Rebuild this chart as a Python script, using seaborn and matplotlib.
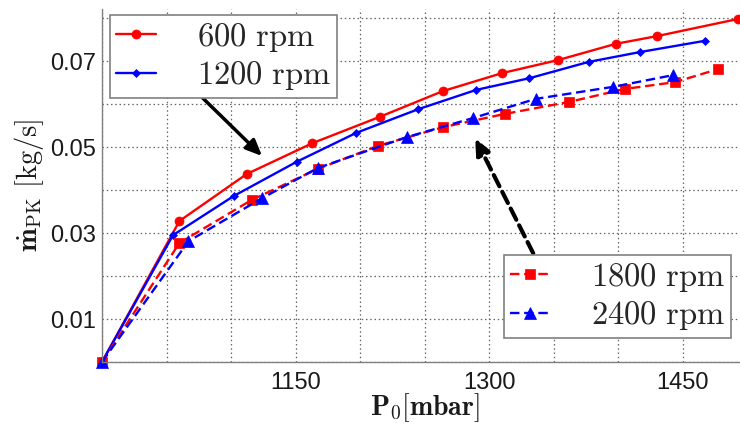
import matplotlib
matplotlib.use("Agg")
import matplotlib.pyplot as plt
import seaborn as sns
import pandas as pd
from matplotlib.ticker import FixedLocator, FixedFormatter

# ---- data ----
p600_x = [1000, 1060, 1112, 1163, 1215, 1264, 1310, 1353, 1398, 1430, 1493]
p600_y = [0, 0.0328, 0.0437, 0.0509, 0.0570, 0.0630, 0.0672, 0.0702, 0.0740, 0.0758, 0.0798]

p1200_x = [1000, 1055, 1102, 1151, 1197, 1245, 1290, 1331, 1377, 1417, 1467]
p1200_y = [0, 0.0295, 0.0386, 0.0466, 0.0533, 0.0588, 0.0633, 0.0660, 0.0698, 0.0721, 0.0747]

p1800_x = [1000, 1060, 1116, 1167, 1214, 1264, 1312, 1362, 1405, 1444, 1477]
p1800_y = [0, 0.0277, 0.0377, 0.0449, 0.0503, 0.0546, 0.0577, 0.0605, 0.0635, 0.0651, 0.0681]

p2400_x = [1000, 1067, 1124, 1167, 1236, 1287, 1336, 1396, 1442]
p2400_y = [0, 0.0281, 0.0381, 0.0451, 0.0523, 0.0567, 0.0612, 0.0640, 0.0667]

labels = ["600 rpm", "1200 rpm", "1800 rpm", "2400 rpm"]

x_ticks = [1000, 1050, 1100, 1150, 1200, 1250, 1300, 1350, 1400, 1450, 1500]
x_ticklabels = ["", "", "", "1150", "", "", "1300", "", "", "1450", ""]
y_ticks = [0.0, 0.01, 0.02, 0.03, 0.04, 0.05, 0.06, 0.07, 0.08]
y_ticklabels = ["", "0.01", "", "0.03", "", "0.05", "", "0.07", ""]

# ---- style ----
sns.set_theme(style="white")
plt.rcParams["font.family"] = ["Liberation Sans", "DejaVu Sans"]
plt.rcParams["mathtext.fontset"] = "cm"

fig = plt.figure(figsize=(7.4, 4.28), dpi=100)
ax = fig.add_axes([102 / 740, 66 / 428, 645.5 / 740, 353 / 428])

series = [
    (p600_x, p600_y, labels[0], "#ff0000", "o", 6.5, "-"),
    (p1200_x, p1200_y, labels[1], "#0000ff", "D", 4, "-"),
    (p1800_x, p1800_y, labels[2], "#ff0000", "s", 7.5, (0, (4, 2))),
    (p2400_x, p2400_y, labels[3], "#0000ff", "^", 8, (0, (4, 2))),
]
handles = []
for xs, ys, lab, col, mk, ms, ls in series:
    df = pd.DataFrame({"P0": xs, "m": ys})
    sns.lineplot(data=df, x="P0", y="m", ax=ax, color=col, marker=mk,
                 markersize=ms, markeredgecolor=col, markerfacecolor=col,
                 markeredgewidth=0.5, linestyle=ls, linewidth=1.7,
                 sort=False, estimator=None, label=lab, clip_on=False)
    handles.append(ax.lines[-1])

ax.set_xlim(1000, 1500)
ax.set_ylim(0, 0.0821)
ax.xaxis.set_major_locator(FixedLocator(x_ticks))
ax.xaxis.set_major_formatter(FixedFormatter(x_ticklabels))
ax.yaxis.set_major_locator(FixedLocator(y_ticks))
ax.yaxis.set_major_formatter(FixedFormatter(y_ticklabels))
ax.tick_params(axis="both", direction="in", length=4, width=0.8,
               colors="#808080", labelcolor="#1a1a1a", labelsize=17)
ax.tick_params(axis="x", pad=7)
ax.tick_params(axis="y", pad=4)
ax.grid(True, linestyle=(0, (1.2, 2.2)), color="#666666", linewidth=0.9)
for s in ["top", "right"]:
    ax.spines[s].set_visible(False)
for s in ["left", "bottom"]:
    ax.spines[s].set_color("#808080")
    ax.spines[s].set_linewidth(1.0)

ax.set_xlabel(r"$\mathbf{P}_0\mathbf{[mbar]}$", fontsize=20, labelpad=-2,
              color="#1a1a1a")
ax.set_ylabel(r"$\dot{\mathbf{m}}_{\mathrm{PK}}\ \mathrm{[kg/s]}$", fontsize=20.5,
              labelpad=3, color="#1a1a1a")

if ax.get_legend() is not None:
    ax.get_legend().remove()

leg_kw = dict(frameon=True, fancybox=False, framealpha=1, edgecolor="#808080",
              fontsize=23.5, handlelength=1.25, handletextpad=1.25,
              labelspacing=0.17, borderpad=0.17, borderaxespad=0)
mlabels = [r"$\mathrm{600\ rpm}$", r"$\mathrm{1200\ rpm}$",
           r"$\mathrm{1800\ rpm}$", r"$\mathrm{2400\ rpm}$"]
leg1 = fig.legend(handles[:2], mlabels[:2], loc="upper left",
                  bbox_to_anchor=(110 / 740, 1 - 15 / 428), **leg_kw)
leg2 = fig.legend(handles[2:], mlabels[2:], loc="upper left",
                  bbox_to_anchor=(504 / 740, 1 - 255 / 428), **leg_kw)
for lg in (leg1, leg2):
    lg.get_frame().set_linewidth(1.2)

# arrows
arrow_solid = ((1078, 0.0614), (1124, 0.0479))
arrow_dashed = ((1334, 0.0253), (1289, 0.0521))
ax.annotate("", xy=arrow_solid[1], xytext=arrow_solid[0],
            arrowprops=dict(arrowstyle="-|>,head_length=0.8,head_width=0.35",
                            color="black", lw=2.5, shrinkA=0, shrinkB=0))
ax.annotate("", xy=arrow_dashed[1], xytext=arrow_dashed[0],
            arrowprops=dict(arrowstyle="-|>,head_length=0.8,head_width=0.35",
                            color="black", lw=3, linestyle=(0, (3, 1.5)),
                            shrinkA=0, shrinkB=0))

fig.savefig("out.png", dpi=100)
